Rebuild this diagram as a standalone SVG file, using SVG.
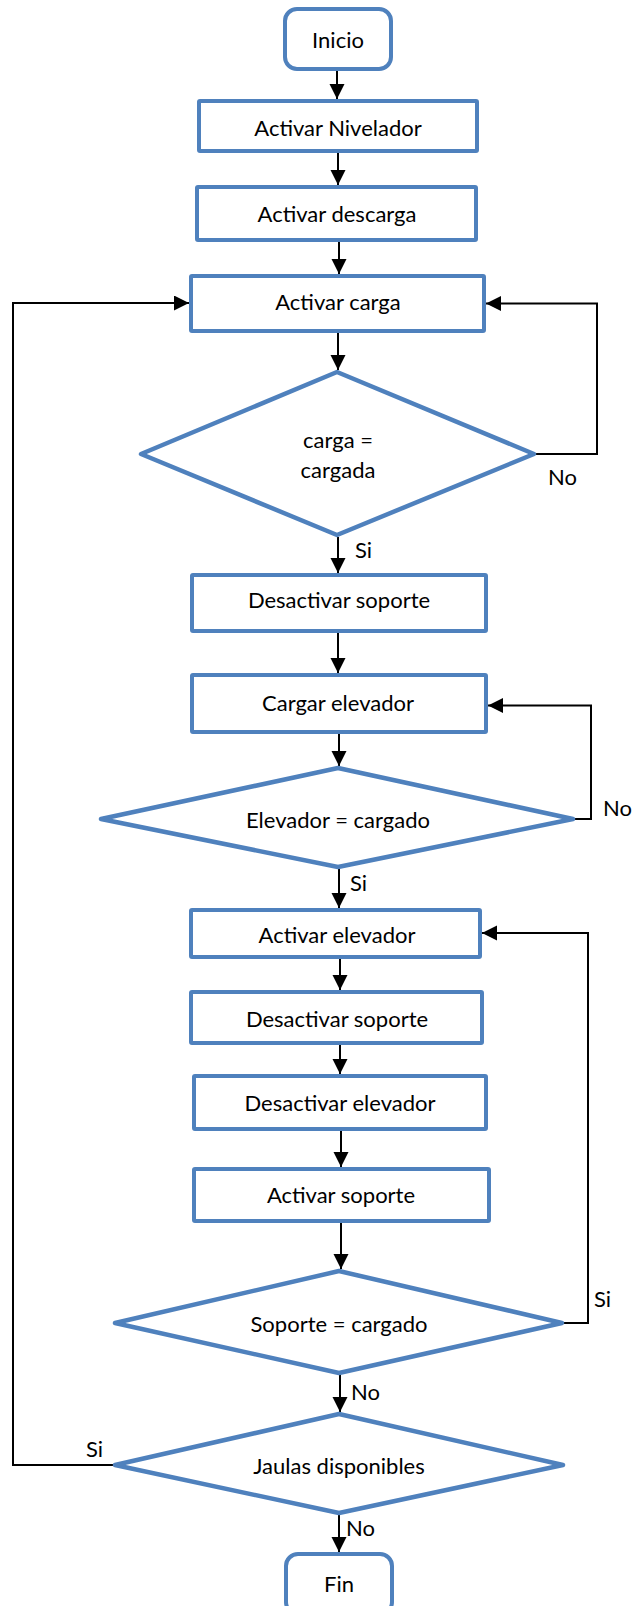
<svg xmlns="http://www.w3.org/2000/svg" width="634" height="1606" viewBox="0 0 634 1606">
<defs>
<style>
.box{fill:#fff;stroke:#4F81BD;stroke-width:4;stroke-linejoin:round}
.dia{fill:#fff;stroke:#4F81BD;stroke-width:4.5;stroke-linejoin:round}
.t{font-family:Lato,"Liberation Sans",sans-serif;font-size:22px;fill:#000;text-anchor:middle}
.l{font-family:Lato,"Liberation Sans",sans-serif;font-size:22px;fill:#000}
.c{fill:none;stroke:#000;stroke-width:2}
</style>
<marker id="ah" markerUnits="userSpaceOnUse" markerWidth="16" markerHeight="16" refX="15" refY="7.5" orient="auto">
<path d="M0,0 L15,7.5 L0,15 z" fill="#000"/>
</marker>
</defs>
<rect width="634" height="1606" fill="#fff"/>
<g id="connectors">
<line class="c" x1="337" y1="71" x2="337" y2="99" marker-end="url(#ah)"/>
<line class="c" x1="338" y1="153" x2="338" y2="185" marker-end="url(#ah)"/>
<line class="c" x1="339" y1="242" x2="339" y2="274" marker-end="url(#ah)"/>
<line class="c" x1="338" y1="333" x2="338" y2="370" marker-end="url(#ah)"/>
<line class="c" x1="338" y1="537" x2="338" y2="573" marker-end="url(#ah)"/>
<line class="c" x1="338" y1="633" x2="338" y2="673" marker-end="url(#ah)"/>
<line class="c" x1="339" y1="734" x2="339" y2="766" marker-end="url(#ah)"/>
<line class="c" x1="339" y1="869" x2="339" y2="908" marker-end="url(#ah)"/>
<line class="c" x1="340" y1="959" x2="340" y2="990" marker-end="url(#ah)"/>
<line class="c" x1="340" y1="1045" x2="340" y2="1074" marker-end="url(#ah)"/>
<line class="c" x1="341" y1="1131" x2="341" y2="1167" marker-end="url(#ah)"/>
<line class="c" x1="341" y1="1223" x2="341" y2="1269" marker-end="url(#ah)"/>
<line class="c" x1="340" y1="1375" x2="340" y2="1412" marker-end="url(#ah)"/>
<line class="c" x1="339" y1="1515" x2="339" y2="1552" marker-end="url(#ah)"/>
<polyline class="c" points="534,454 597,454 597,303.5 486,303.5" marker-end="url(#ah)"/>
<polyline class="c" points="573,819 591,819 591,705.5 488,705.5" marker-end="url(#ah)"/>
<polyline class="c" points="562,1323 588,1323 588,933 482,933" marker-end="url(#ah)"/>
<polyline class="c" points="115,1465 13,1465 13,303 189,303" marker-end="url(#ah)"/>
<text class="l" x="355" y="558">Si</text>
<text class="l" x="350" y="891">Si</text>
<text class="l" x="351" y="1400">No</text>
<text class="l" x="346" y="1536">No</text>
<text class="l" x="548" y="485">No</text>
<text class="l" x="603" y="816">No</text>
<text class="l" x="594" y="1307">Si</text>
<text class="l" x="86" y="1457">Si</text>
</g>
<g id="inicio"><rect class="box" x="285" y="9" width="106" height="60" rx="12"/><text class="t" x="338" y="48">Inicio</text></g>
<g id="activar-nivelador"><rect class="box" x="199" y="101" width="278" height="50" rx="1"/><text class="t" x="338" y="136">Activar Nivelador</text></g>
<g id="activar-descarga"><rect class="box" x="197" y="187" width="279" height="53" rx="1"/><text class="t" x="337" y="222">Activar descarga</text></g>
<g id="activar-carga"><rect class="box" x="191" y="276" width="293" height="55" rx="1"/><text class="t" x="338" y="310">Activar carga</text></g>
<g id="carga-cargada"><polygon class="dia" points="337,372 534,454 337,535 141,454"/><text class="t" x="338" y="448">carga =</text><text class="t" x="338" y="478">cargada</text></g>
<g id="desactivar-soporte-1"><rect class="box" x="192" y="575" width="294" height="56" rx="1"/><text class="t" x="339" y="608">Desactivar soporte</text></g>
<g id="cargar-elevador"><rect class="box" x="192" y="675" width="294" height="57" rx="1"/><text class="t" x="338" y="711">Cargar elevador</text></g>
<g id="elevador-cargado"><polygon class="dia" points="338,768 573,819 338,867 101,819"/><text class="t" x="338" y="828">Elevador = cargado</text></g>
<g id="activar-elevador"><rect class="box" x="191" y="910" width="289" height="47" rx="1"/><text class="t" x="337" y="943">Activar elevador</text></g>
<g id="desactivar-soporte-2"><rect class="box" x="191" y="992" width="291" height="51" rx="1"/><text class="t" x="337" y="1027">Desactivar soporte</text></g>
<g id="desactivar-elevador"><rect class="box" x="194" y="1076" width="292" height="53" rx="1"/><text class="t" x="340" y="1111">Desactivar elevador</text></g>
<g id="activar-soporte"><rect class="box" x="194" y="1169" width="295" height="52" rx="1"/><text class="t" x="341" y="1203">Activar soporte</text></g>
<g id="soporte-cargado"><polygon class="dia" points="339,1271 562,1323 339,1373 115,1323"/><text class="t" x="339" y="1332">Soporte = cargado</text></g>
<g id="jaulas-disponibles"><polygon class="dia" points="339,1414 563,1465 339,1513 115,1465"/><text class="t" x="339" y="1474">Jaulas disponibles</text></g>
<g id="fin"><rect class="box" x="286" y="1554" width="106" height="60" rx="12"/><text class="t" x="339" y="1592">Fin</text></g>
</svg>
